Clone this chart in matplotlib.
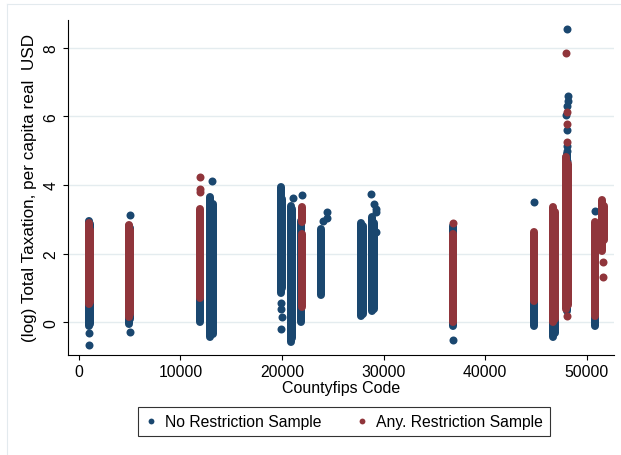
import matplotlib
matplotlib.use("Agg")
import matplotlib.pyplot as plt
from matplotlib.lines import Line2D

plt.rcParams['font.family'] = ['Liberation Sans', 'DejaVu Sans']

# ---- data: county FIPS code vs (log) total taxation per capita ----
# Each state shows up as a dense stack of county-year observations; the stacks
# are stored as (fips, low, high) ranges, isolated observations as points.
norestr_seg_fips = [1000, 1110, 4900, 5050, 11950, 12950, 13200, 19850, 20000,
                    20850, 21000, 21900, 23870, 27800, 27950, 28900, 29050,
                    36860, 44780, 46700, 46850, 48000, 50790]
norestr_seg_low = [-0.12, -0.05, -0.05, 0.10, 0.00, -0.44, -0.35, 0.85, 1.00,
                   -0.58, -0.45, 0.00, 0.78, 0.19, 0.25, 0.34, 0.40,
                   -0.10, -0.10, -0.44, -0.30, 0.34, -0.10]
norestr_seg_high = [2.96, 2.85, 2.80, 2.75, 1.00, 3.64, 3.45, 3.93, 3.60,
                    3.40, 3.30, 2.95, 2.72, 2.90, 2.80, 3.07, 2.90,
                    2.82, 2.33, 0.30, 0.30, 4.90, 0.50]

norestr_pt_fips = [1050, 1050, 5000, 5000, 13100, 19850, 19850, 19950, 19850,
                   21050, 22000, 24440, 24440, 24000, 28800, 29100, 29200,
                   29200, 29200, 36860, 44780, 48050, 48100, 48100, 48050,
                   47950, 48050, 48050, 48000, 47950, 48000, 50790]
norestr_pt_val = [-0.30, -0.66, 3.13, -0.27, 4.12, 0.55, 0.40, 0.15, -0.20,
                  3.61, 3.71, 3.20, 3.05, 2.96, 3.74, 3.45, 3.30,
                  3.20, 2.64, -0.52, 3.50, 8.55, 6.60, 6.45, 6.30,
                  6.05, 5.59, 5.15, 5.00, 4.86, 4.71, 3.23]

anyrestr_seg_fips = [1000, 1110, 4900, 5050, 11950, 21950, 21950, 36860,
                     44780, 46700, 46850, 47900, 48150, 50790, 51450, 51700]
anyrestr_seg_low = [0.53, 0.60, 0.15, 0.25, 0.70, 2.92, 0.45, 0.00,
                    0.62, 0.00, 0.10, 0.39, 0.50, 0.19, 2.09, 2.40]
anyrestr_seg_high = [2.88, 2.70, 2.84, 2.70, 3.30, 3.35, 2.57, 2.57,
                     2.62, 3.35, 3.20, 4.81, 4.60, 2.92, 3.55, 3.40]

anyrestr_pt_fips = [11950, 11950, 11950, 36860, 47950, 48050, 48050, 48050,
                    48000, 51550, 51550]
anyrestr_pt_val = [4.23, 3.89, 3.79, 2.89, 7.85, 6.14, 5.78, 5.25,
                   0.19, 1.77, 1.33]

series_labels = ["No Restriction Sample", "Any. Restriction Sample"]
x_ticks = [0, 10000, 20000, 30000, 40000, 50000]
y_ticks = [0, 2, 4, 6, 8]

navy = "#1a476f"
maroon = "#90353b"
grid_color = "#e4ecef"

W, H = 621, 456
fig = plt.figure(figsize=(W / 100, H / 100), dpi=100)
fig.patch.set_facecolor("white")

# faint outer graph-region frame
fig.add_artist(Line2D([7 / W, 7 / W], [0, 1 - 5 / H], color="#e3eaee", lw=0.8,
                      transform=fig.transFigure))
fig.add_artist(Line2D([7 / W, 1], [1 - 5 / H, 1 - 5 / H], color="#e3eaee", lw=0.8,
                      transform=fig.transFigure))

ax = fig.add_axes([67.5 / W, 1 - 355.5 / H, (614.3 - 67.5) / W, (355.5 - 21) / H])
ax.set_xlim(-1112, 52700)
ax.set_ylim(-0.94, 8.81)

marker_px = 8.0
lw_pt = marker_px * 0.72
s_pt2 = lw_pt ** 2

ax.vlines(norestr_seg_fips, norestr_seg_low, norestr_seg_high, colors=navy,
          linewidth=lw_pt, capstyle="round", zorder=3)
ax.scatter(norestr_pt_fips, norestr_pt_val, s=s_pt2, color=navy,
           linewidths=0, zorder=3)
ax.vlines(anyrestr_seg_fips, anyrestr_seg_low, anyrestr_seg_high, colors=maroon,
          linewidth=lw_pt, capstyle="round", zorder=4)
ax.scatter(anyrestr_pt_fips, anyrestr_pt_val, s=s_pt2, color=maroon,
           linewidths=0, zorder=4)

ax.set_yticks(y_ticks)
ax.set_xticks(x_ticks)
ax.set_yticklabels([str(v) for v in y_ticks], rotation=90, va="center")
ax.grid(axis="y", color=grid_color, linewidth=1.0, zorder=0)
ax.set_axisbelow(True)

for side in ("top", "right"):
    ax.spines[side].set_visible(False)
for side in ("left", "bottom"):
    ax.spines[side].set_linewidth(0.8)
    ax.spines[side].set_color("black")

ax.tick_params(axis="both", length=3.5, width=0.8, labelsize=11.3, color="black")
ax.tick_params(axis="y", pad=3)
ax.tick_params(axis="x", pad=3)

ax.set_xlabel("Countyfips Code", fontsize=11.5, labelpad=1)
ax.set_ylabel("(log) Total Taxation, per capita real  USD", fontsize=12.3, labelpad=5)

handles = [Line2D([], [], linestyle="none", marker="o", markersize=4.2,
                  markerfacecolor=c, markeredgewidth=0)
           for c in (navy, maroon)]
leg = fig.legend(handles, series_labels, loc="center",
                 bbox_to_anchor=(344 / W, 1 - 422.5 / H), ncol=2,
                 fontsize=11.3, frameon=True, fancybox=False,
                 handlelength=0.8, handletextpad=0.5, columnspacing=2.2,
                 borderpad=0.45)
leg.get_frame().set_edgecolor("black")
leg.get_frame().set_linewidth(0.8)

fig.savefig("out.png", dpi=100, facecolor="white")
